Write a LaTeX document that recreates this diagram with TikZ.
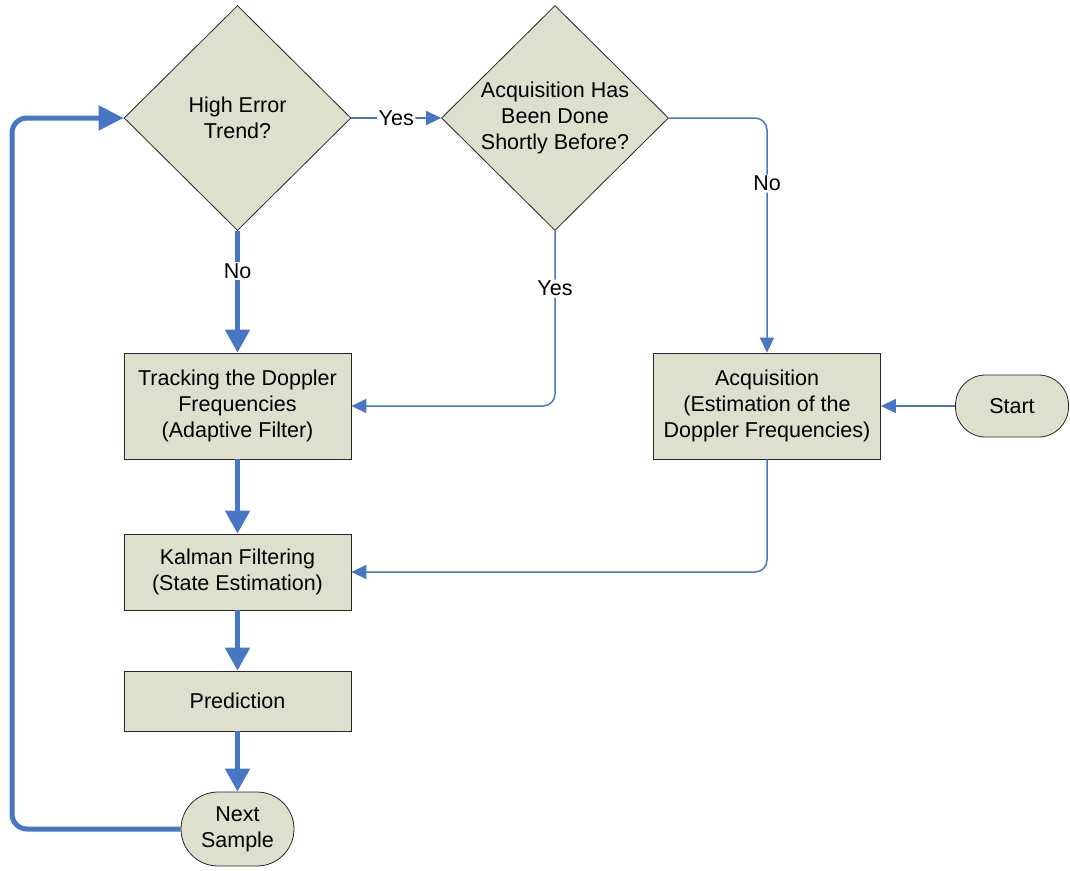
\documentclass[tikz,border=0pt]{standalone}
\usepackage{fontspec}
\setmainfont{Liberation Sans}
\usepackage{tikz}
\usetikzlibrary{shapes,arrows.meta,calc}

\definecolor{boxfill}{RGB}{221,224,204}
\definecolor{flowblue}{RGB}{71,118,196}

\begin{document}
\begin{tikzpicture}[x=1pt,y=-1pt]
    \tikzstyle{proc} = [
      rectangle,
      draw=black!85,
      fill=boxfill,
      line width=0.8pt,
      align=center,
      minimum width=227pt,
      font=\fontsize{21.5}{26}\selectfont,
    ]
    \tikzstyle{decide} = [
      diamond,
      aspect=1,
      draw=black!85,
      fill=boxfill,
      line width=0.8pt,
      inner sep=0pt,
      align=center,
      minimum width=227pt,
      minimum height=225pt,
      font=\fontsize{21.5}{26}\selectfont,
    ]
    \tikzstyle{term} = [
      rectangle,
      rounded corners=30pt,
      draw=black!85,
      fill=boxfill,
      line width=0.8pt,
      align=center,
      minimum width=113pt,
      font=\fontsize{21.5}{26}\selectfont,
    ]
    \tikzstyle{thin}  = [line width=1.5pt,draw=flowblue,rounded corners=12pt,
      -{Triangle[length=15pt,width=14pt]}]
    \tikzstyle{thick} = [line width=5pt,draw=flowblue,
      -{Triangle[length=23pt,width=24pt]}]
    \tikzstyle{lbl} = [fill=white,inner sep=1.5pt,text=black,
      font=\fontsize{21.5}{26}\selectfont]

    \useasboundingbox (0,0) rectangle (1070,870);

    \node[decide] (d1) at (237.5,118) {High Error\\Trend?};
    \node[decide] (d2) at (555,118) {Acquisition Has\\Been Done\\Shortly Before?};
    \node[proc, minimum height=106pt] (track) at (237.5,406) {Tracking the Doppler\\Frequencies\\(Adaptive Filter)};
    \node[proc, minimum height=106pt] (acq) at (767,406) {Acquisition\\(Estimation of the\\Doppler Frequencies)};
    \node[term, minimum height=62pt] (start) at (1012,406) {Start};
    \node[proc, minimum height=76pt] (kal) at (237.5,572) {Kalman Filtering\\(State Estimation)};
    \node[proc, minimum height=60pt] (pred) at (237.5,701) {Prediction};
    \node[term, minimum height=74pt, rounded corners=37pt] (next) at (237.5,829) {Next\\Sample};
    \coordinate (lp) at (12,0);

    \draw[thin] (d1.east)--(d2.west) node[lbl,midway] {Yes};
    \draw[thin] (d2.east) -| (acq.north) node[lbl,pos=0.64] {No};
    \draw[thin] (d2.south) |- (track.east) node[lbl,pos=0.165] {Yes};
    \draw[thin] (start.west)--(acq.east);
    \draw[thin] (acq.south) |- (kal.east);

    \draw[thick] (d1.south)--(track.north) node[lbl,pos=0.33] {No};
    \draw[thick] (track.south)--(kal.north);
    \draw[thick] (kal.south)--(pred.north);
    \draw[thick] (pred.south)--(next.north);
    \draw[thick,rounded corners=15pt,-{Triangle[length=25pt,width=24pt]}]
      (next.west) -- (next.west -| lp) -- (d1.west -| lp) -- (d1.west);
  \end{tikzpicture}
\end{document}
